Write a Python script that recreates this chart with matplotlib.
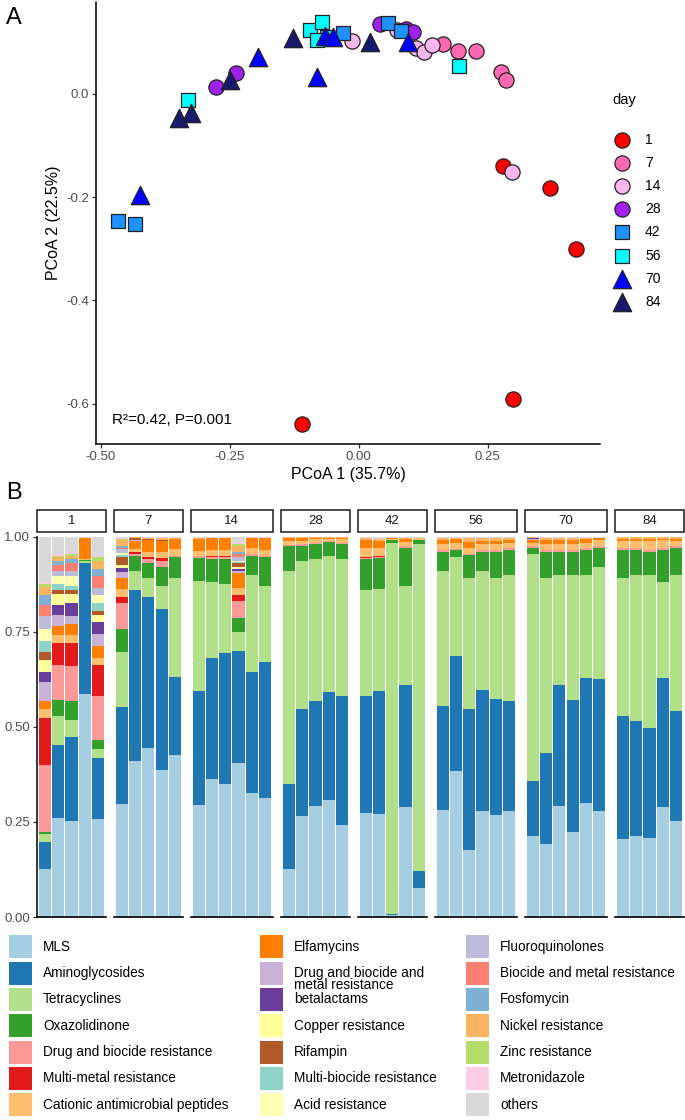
# PCoA of resistome by day (A) + relative abundance of resistance classes (B)

import numpy as np
import matplotlib.pyplot as plt
from matplotlib.patches import Rectangle
from matplotlib.ticker import FormatStrFormatter

plt.rcParams['font.family'] = ['Liberation Sans', 'DejaVu Sans']

# --- PANEL A DATA (PCoA 1, PCoA 2 per sample) ---
days = ['1', '7', '14', '28', '42', '56', '70', '84']
day_colors = ['#FF0000', '#FF69B4', '#FBB6F0', '#A020F0',
              '#1E90FF', '#00FFFF', '#0000FF', '#191970']
day_markers = ['o', 'o', 'o', 'o', 's', 's', '^', '^']

pc1_d1 = [0.279, 0.372, 0.421, 0.299, -0.110]
pc2_d1 = [-0.139, -0.182, -0.300, -0.590, -0.640]
pc1_d7 = [0.163, 0.193, 0.227, 0.277, 0.286]
pc2_d7 = [0.097, 0.083, 0.083, 0.043, 0.026]
pc1_d14 = [-0.013, 0.074, 0.111, 0.127, 0.142, 0.298]
pc2_d14 = [0.103, 0.124, 0.089, 0.082, 0.095, -0.151]
pc1_d28 = [-0.276, -0.238, 0.041, 0.092, 0.106]
pc2_d28 = [0.013, 0.041, 0.135, 0.125, 0.120]
pc1_d42 = [-0.466, -0.434, -0.030, 0.058, 0.083]
pc2_d42 = [-0.246, -0.252, 0.118, 0.138, 0.121]
pc1_d56 = [-0.330, -0.094, -0.070, -0.061, -0.081, 0.195]
pc2_d56 = [-0.012, 0.123, 0.140, 0.110, 0.105, 0.055]
pc1_d70 = [-0.424, -0.194, -0.080, -0.065, -0.050, 0.096]
pc2_d70 = [-0.196, 0.071, 0.032, 0.112, 0.111, 0.101]
pc1_d84 = [-0.348, -0.325, -0.249, -0.128, 0.022]
pc2_d84 = [-0.047, -0.037, 0.027, 0.108, 0.101]

pc1_all = [pc1_d1, pc1_d7, pc1_d14, pc1_d28, pc1_d42, pc1_d56, pc1_d70, pc1_d84]
pc2_all = [pc2_d1, pc2_d7, pc2_d14, pc2_d28, pc2_d42, pc2_d56, pc2_d70, pc2_d84]

# --- PANEL B DATA (relative abundance, one value per sample) ---
samples_per_day = [5, 5, 6, 5, 5, 6, 6, 5]

categories = ['MLS', 'Aminoglycosides', 'Tetracyclines', 'Oxazolidinone',
              'Drug and biocide resistance', 'Multi-metal resistance',
              'Cationic antimicrobial peptides', 'Elfamycins',
              'Drug and biocide and\nmetal resistance', 'betalactams',
              'Copper resistance', 'Rifampin', 'Multi-biocide resistance',
              'Acid resistance', 'Fluoroquinolones',
              'Biocide and metal resistance', 'Fosfomycin',
              'Nickel resistance', 'Zinc resistance', 'Metronidazole', 'others']
cat_colors = ['#A6CEE3', '#1F78B4', '#B2DF8A', '#33A02C', '#FB9A99', '#E31A1C',
              '#FDBF6F', '#FF7F00', '#CAB2D6', '#6A3D9A', '#FFFF99', '#B15928',
              '#8DD3C7', '#FFFFB3', '#BEBADA', '#FB8072', '#80B1D3', '#FDB462',
              '#B3DE69', '#FCCDE5', '#D9D9D9']

mls = [0.125, 0.259, 0.253, 0.586, 0.257,
       0.296, 0.410, 0.445, 0.387, 0.426,
       0.294, 0.363, 0.350, 0.404, 0.327, 0.312,
       0.125, 0.265, 0.292, 0.307, 0.242,
       0.274, 0.270, 0.005, 0.288, 0.075,
       0.281, 0.385, 0.176, 0.278, 0.268, 0.278,
       0.213, 0.191, 0.292, 0.224, 0.300, 0.279,
       0.204, 0.213, 0.207, 0.290, 0.252]
amino = [0.073, 0.193, 0.220, 0.344, 0.162,
         0.255, 0.450, 0.395, 0.423, 0.204,
         0.299, 0.317, 0.345, 0.296, 0.316, 0.358,
         0.225, 0.281, 0.276, 0.284, 0.338,
         0.306, 0.323, 0.002, 0.322, 0.046,
         0.274, 0.300, 0.370, 0.319, 0.305, 0.289,
         0.145, 0.241, 0.318, 0.345, 0.328, 0.347,
         0.325, 0.303, 0.291, 0.338, 0.290]
tetra = [0.020, 0.077, 0.044, 0.005, 0.022,
         0.145, 0.050, 0.050, 0.060, 0.260,
         0.290, 0.200, 0.180, 0.050, 0.257, 0.200,
         0.560, 0.390, 0.372, 0.359, 0.360,
         0.280, 0.270, 0.975, 0.260, 0.860,
         0.355, 0.260, 0.345, 0.313, 0.317, 0.333,
         0.597, 0.458, 0.290, 0.331, 0.272, 0.294,
         0.361, 0.384, 0.402, 0.252, 0.358]
oxa = [0.005, 0.042, 0.050, 0.003, 0.025,
       0.060, 0.040, 0.040, 0.050, 0.055,
       0.060, 0.060, 0.065, 0.035, 0.050, 0.075,
       0.065, 0.040, 0.040, 0.035, 0.040,
       0.080, 0.080, 0.008, 0.100, 0.010,
       0.050, 0.020, 0.060, 0.050, 0.070, 0.065,
       0.015, 0.070, 0.060, 0.060, 0.065, 0.050,
       0.075, 0.065, 0.060, 0.085, 0.070]
drug_bio = [0.177, 0.090, 0.092, 0.000, 0.116,
            0.070, 0.005, 0.010, 0.015, 0.003,
            0.005, 0.005, 0.005, 0.045, 0.005, 0.005,
            0.003, 0.003, 0.003, 0.003, 0.003,
            0.004, 0.004, 0.000, 0.004, 0.000,
            0.004, 0.003, 0.004, 0.004, 0.004, 0.004,
            0.004, 0.005, 0.005, 0.005, 0.004, 0.005,
            0.004, 0.004, 0.004, 0.005, 0.004]
multi_metal = [0.123, 0.059, 0.061, 0.000, 0.079,
               0.015, 0.003, 0.005, 0.008, 0.000,
               0.000, 0.005, 0.005, 0.015, 0.000, 0.000,
               0.000, 0.000, 0.000, 0.000, 0.000,
               0.002, 0.002, 0.000, 0.000, 0.000,
               0.000, 0.000, 0.000, 0.000, 0.000, 0.000,
               0.000, 0.000, 0.000, 0.000, 0.000, 0.000,
               0.000, 0.000, 0.000, 0.000, 0.000]
cationic = [0.024, 0.020, 0.020, 0.004, 0.020,
            0.020, 0.010, 0.015, 0.015, 0.020,
            0.015, 0.015, 0.015, 0.020, 0.015, 0.015,
            0.010, 0.010, 0.010, 0.006, 0.010,
            0.025, 0.020, 0.004, 0.012, 0.004,
            0.015, 0.015, 0.015, 0.015, 0.015, 0.015,
            0.010, 0.015, 0.015, 0.015, 0.015, 0.015,
            0.020, 0.020, 0.025, 0.020, 0.015]
elfa = [0.020, 0.025, 0.030, 0.055, 0.032,
        0.030, 0.020, 0.030, 0.030, 0.025,
        0.030, 0.030, 0.030, 0.040, 0.025, 0.030,
        0.008, 0.006, 0.004, 0.003, 0.003,
        0.020, 0.020, 0.003, 0.008, 0.002,
        0.012, 0.010, 0.015, 0.010, 0.010, 0.008,
        0.006, 0.012, 0.012, 0.012, 0.010, 0.005,
        0.005, 0.005, 0.005, 0.004, 0.005]
drug_bio_metal = [0.050, 0.030, 0.020, 0.000, 0.032,
                  0.015, 0.002, 0.000, 0.000, 0.000,
                  0.000, 0.000, 0.000, 0.005, 0.000, 0.000,
                  0.000, 0.000, 0.000, 0.000, 0.000,
                  0.000, 0.000, 0.000, 0.000, 0.000,
                  0.000, 0.000, 0.000, 0.000, 0.000, 0.000,
                  0.003, 0.000, 0.000, 0.000, 0.000, 0.000,
                  0.000, 0.000, 0.000, 0.000, 0.000]
beta = [0.026, 0.025, 0.035, 0.000, 0.030,
        0.010, 0.002, 0.000, 0.000, 0.000,
        0.000, 0.000, 0.000, 0.005, 0.000, 0.000,
        0.000, 0.000, 0.000, 0.000, 0.000,
        0.000, 0.000, 0.000, 0.000, 0.000,
        0.000, 0.000, 0.000, 0.000, 0.000, 0.000,
        0.003, 0.000, 0.000, 0.000, 0.000, 0.000,
        0.000, 0.000, 0.000, 0.000, 0.000]
copper = [0.033, 0.030, 0.025, 0.000, 0.020,
          0.010, 0.000, 0.000, 0.000, 0.000,
          0.000, 0.000, 0.000, 0.005, 0.000, 0.000,
          0.000, 0.000, 0.000, 0.000, 0.000,
          0.000, 0.000, 0.000, 0.000, 0.000,
          0.000, 0.000, 0.000, 0.000, 0.000, 0.000,
          0.000, 0.000, 0.000, 0.000, 0.000, 0.000,
          0.000, 0.000, 0.000, 0.000, 0.000]
rif = [0.020, 0.010, 0.010, 0.000, 0.010,
       0.020, 0.003, 0.003, 0.004, 0.000,
       0.000, 0.000, 0.000, 0.010, 0.000, 0.000,
       0.000, 0.000, 0.000, 0.000, 0.000,
       0.000, 0.000, 0.000, 0.000, 0.000,
       0.000, 0.000, 0.000, 0.000, 0.000, 0.000,
       0.000, 0.000, 0.000, 0.000, 0.000, 0.000,
       0.000, 0.000, 0.000, 0.000, 0.000]
multi_bio = [0.030, 0.015, 0.010, 0.000, 0.020,
             0.005, 0.000, 0.000, 0.000, 0.000,
             0.000, 0.000, 0.000, 0.003, 0.000, 0.000,
             0.000, 0.000, 0.000, 0.000, 0.000,
             0.000, 0.000, 0.000, 0.000, 0.000,
             0.000, 0.000, 0.000, 0.000, 0.000, 0.000,
             0.000, 0.000, 0.000, 0.000, 0.000, 0.000,
             0.000, 0.000, 0.000, 0.000, 0.000]
acid = [0.030, 0.020, 0.025, 0.000, 0.020,
        0.005, 0.000, 0.000, 0.000, 0.000,
        0.000, 0.000, 0.000, 0.002, 0.000, 0.000,
        0.000, 0.000, 0.000, 0.000, 0.000,
        0.000, 0.000, 0.000, 0.000, 0.000,
        0.000, 0.000, 0.000, 0.000, 0.000, 0.000,
        0.000, 0.000, 0.000, 0.000, 0.000, 0.000,
        0.000, 0.000, 0.000, 0.000, 0.000]
fluoro = [0.035, 0.015, 0.015, 0.000, 0.020,
          0.010, 0.000, 0.000, 0.000, 0.000,
          0.000, 0.000, 0.000, 0.010, 0.000, 0.000,
          0.000, 0.000, 0.000, 0.000, 0.000,
          0.000, 0.000, 0.000, 0.000, 0.000,
          0.000, 0.000, 0.000, 0.000, 0.000, 0.000,
          0.000, 0.000, 0.000, 0.000, 0.000, 0.000,
          0.000, 0.000, 0.000, 0.000, 0.000]
bio_metal = [0.030, 0.015, 0.020, 0.000, 0.030,
             0.005, 0.000, 0.000, 0.000, 0.000,
             0.000, 0.000, 0.000, 0.010, 0.000, 0.000,
             0.000, 0.000, 0.000, 0.000, 0.000,
             0.000, 0.000, 0.000, 0.000, 0.000,
             0.000, 0.000, 0.000, 0.000, 0.000, 0.000,
             0.000, 0.000, 0.000, 0.000, 0.000, 0.000,
             0.000, 0.000, 0.000, 0.000, 0.000]
fosfo = [0.025, 0.010, 0.010, 0.000, 0.020,
         0.005, 0.000, 0.000, 0.000, 0.000,
         0.000, 0.000, 0.000, 0.005, 0.000, 0.000,
         0.000, 0.000, 0.000, 0.000, 0.000,
         0.000, 0.000, 0.000, 0.000, 0.000,
         0.000, 0.000, 0.000, 0.000, 0.000, 0.000,
         0.000, 0.000, 0.000, 0.000, 0.000, 0.000,
         0.000, 0.000, 0.000, 0.000, 0.000]
nickel = [0.020, 0.010, 0.010, 0.000, 0.020,
          0.015, 0.003, 0.004, 0.004, 0.004,
          0.004, 0.002, 0.002, 0.015, 0.002, 0.002,
          0.002, 0.003, 0.001, 0.001, 0.002,
          0.005, 0.005, 0.000, 0.003, 0.000,
          0.005, 0.004, 0.010, 0.007, 0.007, 0.005,
          0.002, 0.005, 0.005, 0.005, 0.003, 0.002,
          0.004, 0.004, 0.004, 0.004, 0.004]
zinc = [0.010, 0.005, 0.005, 0.000, 0.010,
        0.003, 0.000, 0.000, 0.000, 0.000,
        0.000, 0.000, 0.000, 0.005, 0.000, 0.000,
        0.000, 0.000, 0.000, 0.000, 0.000,
        0.000, 0.000, 0.000, 0.000, 0.000,
        0.000, 0.000, 0.000, 0.000, 0.000, 0.000,
        0.000, 0.000, 0.000, 0.000, 0.000, 0.000,
        0.000, 0.000, 0.000, 0.000, 0.000]
metro = [0.004, 0.005, 0.005, 0.000, 0.005,
         0.003, 0.000, 0.000, 0.000, 0.000,
         0.000, 0.000, 0.000, 0.005, 0.000, 0.000,
         0.000, 0.000, 0.000, 0.000, 0.000,
         0.000, 0.000, 0.000, 0.000, 0.000,
         0.000, 0.000, 0.000, 0.000, 0.000, 0.000,
         0.000, 0.000, 0.000, 0.000, 0.000, 0.000,
         0.000, 0.000, 0.000, 0.000, 0.000]
others = [0.120, 0.045, 0.040, 0.003, 0.050,
          0.003, 0.002, 0.003, 0.004, 0.003,
          0.003, 0.003, 0.003, 0.015, 0.003, 0.003,
          0.002, 0.002, 0.002, 0.002, 0.002,
          0.004, 0.006, 0.003, 0.003, 0.003,
          0.004, 0.003, 0.005, 0.004, 0.004, 0.003,
          0.002, 0.003, 0.003, 0.003, 0.003, 0.003,
          0.002, 0.002, 0.002, 0.002, 0.002]

abund = np.array([mls, amino, tetra, oxa, drug_bio, multi_metal, cationic, elfa,
                  drug_bio_metal, beta, copper, rif, multi_bio, acid, fluoro,
                  bio_metal, fosfo, nickel, zinc, metro, others])

# --- FIGURE (pixel based layout) ---
W, H = 685, 1120
fig = plt.figure(figsize=(W / 100, H / 100), dpi=100)


def box(l, t, r, b):
    return [l / W, 1 - b / H, (r - l) / W, (b - t) / H]


tick_col = '#4D4D4D'

# ---------------- Panel A ----------------
ax = fig.add_axes(box(96, 2, 600, 444))
for i, d in enumerate(days):
    size = 120 if day_markers[i] == 'o' else (95 if day_markers[i] == 's' else 175)
    ax.scatter(pc1_all[i], pc2_all[i], s=size, marker=day_markers[i],
               c=day_colors[i], edgecolors='#222222', linewidths=0.9, zorder=3)

ax.set_xlim(-0.509, 0.468)
ax.set_ylim(-0.678, 0.178)
ax.set_xticks([-0.5, -0.25, 0.0, 0.25])
ax.set_yticks([-0.6, -0.4, -0.2, 0.0])
ax.xaxis.set_major_formatter(FormatStrFormatter('%.2f'))
ax.yaxis.set_major_formatter(FormatStrFormatter('%.1f'))
for s in ['top', 'right']:
    ax.spines[s].set_visible(False)
for s in ['left', 'bottom']:
    ax.spines[s].set_linewidth(1.1)
ax.tick_params(length=3, width=0.9, colors='#333333', labelcolor=tick_col,
               labelsize=9.5, pad=2)
ax.set_xlabel('PCoA 1 (35.7%)', fontsize=11.5, labelpad=3)
ax.set_ylabel('PCoA 2 (22.5%)', fontsize=11.5, labelpad=4)
ax.text(-0.478, -0.632, 'R²=0.42, P=0.001', fontsize=11, ha='left', va='center')

# legend of panel A
fig.text(612 / W, 1 - 100 / H, 'day', fontsize=10.5, va='center', ha='left')
for i, d in enumerate(days):
    ly = 140 + i * 23.1
    size = 120 if day_markers[i] == 'o' else (95 if day_markers[i] == 's' else 175)
    ax.scatter([622 / W], [1 - ly / H], s=size, marker=day_markers[i],
               c=day_colors[i], edgecolors='#222222', linewidths=0.9,
               transform=fig.transFigure, clip_on=False)
    fig.text(645 / W, 1 - ly / H, d, fontsize=10, va='center', ha='left')

fig.text(6 / W, 1 - 18 / H, 'A', fontsize=17, va='center', ha='left')
fig.text(6 / W, 1 - 493 / H, 'B', fontsize=17, va='center', ha='left')

# ---------------- Panel B ----------------
left, right, gap = 37, 684, 8
unit = (right - left - gap * (len(days) - 1)) / (sum(samples_per_day) + 0.2 * len(days))
x0 = left
start = 0
for k, d in enumerate(days):
    n = samples_per_day[k]
    w = (n + 0.2) * unit
    axb = fig.add_axes(box(x0, 536.5, x0 + w, 917))
    sub = abund[:, start:start + n]
    bottoms = np.zeros(n)
    pos = np.arange(n)
    for c in range(sub.shape[0]):
        axb.bar(pos, sub[c], bottom=bottoms, width=0.92, color=cat_colors[c],
                linewidth=0)
        bottoms += sub[c]
    axb.set_xlim(-0.6, n - 0.4)
    axb.set_ylim(0, 1)
    axb.set_xticks([])
    for s in ['top', 'right']:
        axb.spines[s].set_visible(False)
    axb.spines['bottom'].set_linewidth(1.2)
    if k == 0:
        axb.spines['left'].set_linewidth(1.1)
        axb.set_yticks([0, 0.25, 0.5, 0.75, 1.0])
        axb.set_yticklabels(['0.00', '0.25', '0.50', '0.75', '1.00'])
        axb.tick_params(axis='y', length=3, width=0.9, colors='#333333',
                        labelcolor=tick_col, labelsize=9.5, pad=2)
    else:
        axb.spines['left'].set_visible(False)
        axb.set_yticks([])
    # strip
    fig.patches.append(Rectangle((x0 / W, 1 - 532 / H), w / W, 22 / H,
                                 transform=fig.transFigure, facecolor='white',
                                 edgecolor='#1A1A1A', linewidth=1.1))
    fig.text((x0 + w / 2) / W, 1 - 521 / H, d, fontsize=9.5, ha='center',
             va='center', color='#1A1A1A')
    x0 += w + gap
    start += n

# legend of panel B (3 columns, 7 rows)
key_x = [9, 260, 466]
for i, cat in enumerate(categories):
    col, row = i // 7, i % 7
    cy = 946.7 + row * 26.33
    fig.patches.append(Rectangle((key_x[col] / W, 1 - (cy + 11.5) / H), 23 / W, 23 / H,
                                 transform=fig.transFigure,
                                 facecolor=cat_colors[i], edgecolor='none'))
    ty = cy + 6 if '\n' in cat else cy
    fig.text((key_x[col] + 34) / W, 1 - ty / H, cat, fontsize=9.8, ha='left',
             va='center', linespacing=0.85)

plt.savefig('out.png', dpi=100)
